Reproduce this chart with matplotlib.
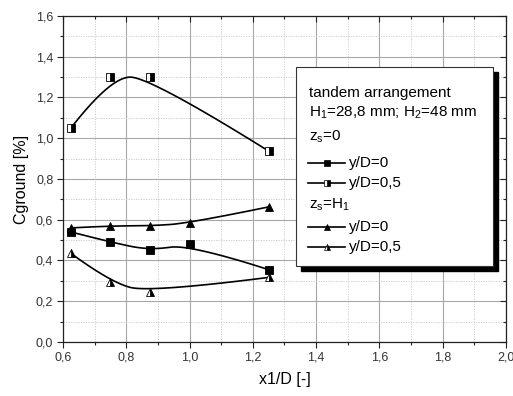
import numpy as np
import matplotlib
matplotlib.use("Agg")
import matplotlib.pyplot as plt
from matplotlib.lines import Line2D
from matplotlib.patches import Rectangle
from matplotlib.ticker import MultipleLocator, FuncFormatter

plt.rcParams['font.family'] = ['Liberation Sans', 'DejaVu Sans']

# ---- data ----
x_sq = [0.625, 0.75, 0.875, 1.0, 1.25]
y_sq = [0.54, 0.49, 0.45, 0.48, 0.355]          # zs=0, y/D=0
x_hsq = [0.625, 0.75, 0.875, 1.25]
y_hsq = [1.05, 1.30, 1.30, 0.937]               # zs=0, y/D=0,5
x_tr = [0.625, 0.75, 0.875, 1.0, 1.25]
y_tr = [0.56, 0.57, 0.57, 0.583, 0.663]          # zs=H1, y/D=0
x_htr = [0.625, 0.75, 0.875, 1.25]
y_htr = [0.435, 0.293, 0.243, 0.317]             # zs=H1, y/D=0,5


def bspline2(x, y, n=60):
    """Clamped uniform quadratic B-spline using the data points as control points."""
    P = np.column_stack([x, y]).astype(float)
    m = len(P)
    t = np.linspace(0, 1, n)[:, None]
    out = []
    for i in range(1, m - 1):
        a = P[0] if i == 1 else (P[i - 1] + P[i]) / 2
        b = P[i]
        c = P[-1] if i == m - 2 else (P[i] + P[i + 1]) / 2
        seg = (1 - t) ** 2 * a + 2 * t * (1 - t) * b + t ** 2 * c
        out.append(seg if i == 1 else seg[1:])
    out = np.vstack(out)
    return out[:, 0], out[:, 1]


fig = plt.figure(figsize=(5.13, 3.96), dpi=100)
ax = fig.add_axes([0.1228, 0.1364, 0.8635, 0.8232])

ax.set_xlim(0.6, 2.0)
ax.set_ylim(0.0, 1.6)
ax.xaxis.set_major_locator(MultipleLocator(0.2))
ax.xaxis.set_minor_locator(MultipleLocator(0.1))
ax.yaxis.set_major_locator(MultipleLocator(0.2))
ax.yaxis.set_minor_locator(MultipleLocator(0.1))
fmt = FuncFormatter(lambda v, p: f"{v:.1f}".replace('.', ','))
ax.xaxis.set_major_formatter(fmt)
ax.yaxis.set_major_formatter(fmt)
ax.grid(which='major', color='#a8a8a8', lw=0.8, ls='-')
ax.grid(which='minor', color='#c8c8c8', lw=0.6, ls=(0, (1.5, 1.5)))
ax.set_axisbelow(True)
ax.tick_params(which='both', labelsize=9, width=0.8, color='#222222', labelcolor='#333333')
ax.tick_params(which='major', length=4, pad=3)
ax.tick_params(which='minor', length=2.5)
ax.tick_params(which='both', top=True, right=True)
for t in ax.xaxis.get_major_ticks() + ax.xaxis.get_minor_ticks():
    t.tick2line.set_marker(3)
for t in ax.yaxis.get_major_ticks() + ax.yaxis.get_minor_ticks():
    t.tick2line.set_marker(0)
for s in ax.spines.values():
    s.set_linewidth(0.9)
    s.set_color('#222222')

ms = 6
series = [
    (x_sq, y_sq, 's', 'full'),
    (x_hsq, y_hsq, 's', 'right'),
    (x_tr, y_tr, '^', 'full'),
    (x_htr, y_htr, '^', 'right'),
]
for xv, yv, mk, fs in series:
    xs, ys = bspline2(xv, yv)
    ax.plot(xs, ys, color='black', lw=1.2, zorder=3)
    ax.plot(xv, yv, ls='none', marker=mk, ms=ms, fillstyle=fs,
            markerfacecolor='black', markerfacecoloralt='white',
            markeredgecolor='black', markeredgewidth=0.6, zorder=4)

ax.set_xlabel('x1/D [-]', fontsize=11.5, labelpad=6)
ax.set_ylabel('Cground [%]', fontsize=11.5, labelpad=5)

# ---- legend box (drawn manually) ----
W, H = 513.0, 396.0
def fx(px): return px / W
def fy(py): return 1 - py / H

box_l, box_r, box_t, box_b = 296, 493, 67, 266
sh = 5
fig.patches.append(Rectangle((fx(box_l + sh), fy(box_b + sh)), fx(box_r - box_l), (box_b - box_t) / H,
                             transform=fig.transFigure, facecolor='black', edgecolor='black', zorder=5))
fig.patches.append(Rectangle((fx(box_l), fy(box_b)), fx(box_r - box_l), (box_b - box_t) / H,
                             transform=fig.transFigure, facecolor='white', edgecolor='#333333', lw=0.8, zorder=6))

tx = 309
fs_leg = 11
rows = [
    (93, 'tandem arrangement', None),
    (113, r'H$_\mathregular{1}$=28,8 mm; H$_\mathregular{2}$=48 mm', None),
    (137, r'z$_\mathregular{s}$=0', None),
    (163, 'y/D=0', ('s', 'full')),
    (183, 'y/D=0,5', ('s', 'right')),
    (205, r'z$_\mathregular{s}$=H$_\mathregular{1}$', None),
    (227, 'y/D=0', ('^', 'full')),
    (247, 'y/D=0,5', ('^', 'right')),
]
for py, txt, h in rows:
    if h is None:
        fig.text(fx(tx), fy(py), txt, fontsize=fs_leg, va='center', ha='left', zorder=7)
    else:
        mk, fsty = h
        fig.lines.append(Line2D([fx(308), fx(345)], [fy(py), fy(py)], transform=fig.transFigure,
                                color='black', lw=1.2, zorder=7))
        fig.lines.append(Line2D([fx(326.5)], [fy(py)], transform=fig.transFigure, ls='none',
                                marker=mk, ms=4.5, fillstyle=fsty, markerfacecolor='black',
                                markerfacecoloralt='white', markeredgecolor='black',
                                markeredgewidth=0.5, zorder=8))
        fig.text(fx(349), fy(py), txt, fontsize=fs_leg, va='center', ha='left', zorder=7)

fig.savefig('out.png', dpi=100)
